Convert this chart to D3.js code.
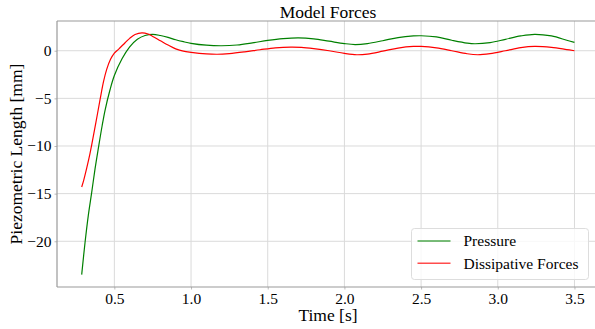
<!DOCTYPE html>
<html>
<head>
<meta charset="utf-8">
<script src="https://cdn.jsdelivr.net/npm/d3@7"></script>
<style>
    body { margin: 0; background: #fff; }
    svg { display: block; font-family: "Liberation Serif", "Times New Roman", serif; }
</style>
</head>
<body>
<div id="chart"></div>
<script>
// values
var timePressure = [0.287, 0.309, 0.33, 0.352, 0.374, 0.396, 0.42, 0.44, 0.47, 0.5, 0.55, 0.6, 0.65, 0.7, 0.75,
    0.8, 0.85, 0.9, 0.95, 1.0, 1.1, 1.2, 1.3, 1.4, 1.5, 1.6, 1.7, 1.8, 1.9, 2.0, 2.07, 2.15, 2.25, 2.35,
    2.45, 2.5, 2.6, 2.7, 2.8, 2.85, 2.95, 3.05, 3.15, 3.24, 3.35, 3.45, 3.5];
var pressure = [-23.5, -20.1, -17.3, -14.9, -12.4, -10.2, -7.9, -6.2, -4.2, -2.6, -0.85, 0.4, 1.2, 1.6, 1.72,
    1.6, 1.4, 1.15, 0.95, 0.78, 0.58, 0.52, 0.6, 0.82, 1.08, 1.27, 1.35, 1.25, 1.0, 0.75, 0.65, 0.75, 1.05, 1.38,
    1.55, 1.57, 1.45, 1.1, 0.8, 0.73, 0.85, 1.2, 1.55, 1.72, 1.55, 1.1, 0.87];

var timeDissipative = [0.287, 0.3, 0.32, 0.341, 0.352, 0.38, 0.407, 0.43, 0.45, 0.475, 0.5, 0.53, 0.57, 0.6,
    0.635, 0.68, 0.72, 0.75, 0.8, 0.85, 0.9, 0.95, 1.0, 1.1, 1.17, 1.25, 1.35, 1.45, 1.55, 1.65, 1.72, 1.8,
    1.9, 2.0, 2.08, 2.15, 2.25, 2.35, 2.45, 2.5, 2.6, 2.7, 2.8, 2.87, 2.95, 3.05, 3.15, 3.24, 3.35, 3.45, 3.5];
var dissipative = [-14.3, -13.6, -12.3, -10.8, -9.9, -7.5, -5.1, -3.2, -1.96, -0.9, -0.25, 0.2, 0.84, 1.3,
    1.7, 1.87, 1.75, 1.5, 1.05, 0.6, 0.2, -0.05, -0.17, -0.33, -0.37, -0.3, -0.12, 0.1, 0.3, 0.38, 0.35, 0.22,
    0.0, -0.28, -0.42, -0.35, -0.05, 0.28, 0.45, 0.45, 0.3, 0.0, -0.32, -0.42, -0.3, 0.0, 0.32, 0.45, 0.35, 0.12, 0.0];

var xTicks = [0.5, 1.0, 1.5, 2.0, 2.5, 3.0, 3.5];
var yTicks = [0, -5, -10, -15, -20];
var seriesNames = ["Pressure", "Dissipative Forces"];
var seriesColors = ["green", "red"];

var w = 595, h = 329;
var margin = { top: 21, right: -4, bottom: 42, left: 57 };
var width = w - margin.left - margin.right;
var height = h - margin.top - margin.bottom;

var svg = d3.select("#chart").append("svg").attr("width", w).attr("height", h);
var g = svg.append("g").attr("transform", "translate(" + margin.left + "," + margin.top + ")");

var scale_x = d3.scaleLinear().domain([0.126, 3.66]).range([0, width]);
var scale_y = d3.scaleLinear().domain([-24.8, 3.12]).range([height, 0]);

// grid
g.append("g").attr("class", "grid")
    .selectAll("line.gx").data(xTicks).enter().append("line")
    .attr("x1", function (d) { return scale_x(d); }).attr("x2", function (d) { return scale_x(d); })
    .attr("y1", 0).attr("y2", height)
    .attr("stroke", "#dadada").attr("stroke-width", 1);
g.append("g").attr("class", "grid")
    .selectAll("line.gy").data(yTicks).enter().append("line")
    .attr("y1", function (d) { return scale_y(d); }).attr("y2", function (d) { return scale_y(d); })
    .attr("x1", 0).attr("x2", width)
    .attr("stroke", "#dadada").attr("stroke-width", 1);

// axes
var xAxis = d3.axisBottom(scale_x).tickValues(xTicks).tickSize(2.5).tickPadding(3)
    .tickFormat(d3.format(".1f"));
var yAxis = d3.axisLeft(scale_y).tickValues(yTicks).tickSize(2.5).tickPadding(3)
    .tickFormat(function (d) { return d < 0 ? "\u2212" + Math.abs(d) : d; });

var xBar = g.append("g").attr("transform", "translate(0," + height + ")").call(xAxis);
var yBar = g.append("g").call(yAxis);
[xBar, yBar].forEach(function (b) {
    b.attr("font-family", null).attr("font-size", null);
    b.select(".domain").remove();
    b.selectAll(".tick line").attr("stroke", "#bbbbbb");
    b.selectAll(".tick text").attr("fill", "#000").style("font-size", "15.5px");
});
xBar.selectAll(".tick text").attr("dy", "0.71em");

// frame
g.append("line").attr("x1", 0).attr("x2", 0).attr("y1", 0).attr("y2", height)
    .attr("stroke", "#999").attr("stroke-width", 1.2);
g.append("line").attr("x1", 0).attr("x2", width).attr("y1", height).attr("y2", height)
    .attr("stroke", "#999").attr("stroke-width", 1.2);
g.append("line").attr("x1", 0).attr("x2", width).attr("y1", 0).attr("y2", 0)
    .attr("stroke", "#999").attr("stroke-width", 1.2);

// lines
var line = d3.line()
    .x(function (d) { return scale_x(d.x); })
    .y(function (d) { return scale_y(d.y); })
    .curve(d3.curveCatmullRom.alpha(0.5));

var datasets = [
    timePressure.map(function (t, i) { return { x: t, y: pressure[i] }; }),
    timeDissipative.map(function (t, i) { return { x: t, y: dissipative[i] }; })
];
datasets.forEach(function (data, i) {
    g.append("path").attr("d", line(data))
        .attr("fill", "none").attr("stroke", seriesColors[i]).attr("stroke-width", 1.2);
});

// title and labels
svg.append("text").attr("x", 328).attr("y", 18)
    .attr("text-anchor", "middle").style("font-size", "17.5px").text("Model Forces");
svg.append("text").attr("x", 328).attr("y", 321)
    .attr("text-anchor", "middle").style("font-size", "17.5px").text("Time [s]");
svg.append("text").attr("transform", "translate(22,154) rotate(-90)")
    .attr("text-anchor", "middle").style("font-size", "17.5px").text("Piezometric Length [mm]");

// legend
var legend = svg.append("g").attr("transform", "translate(411.5,228.5)");
legend.append("rect").attr("width", 177).attr("height", 51).attr("rx", 3)
    .attr("fill", "#fff").attr("fill-opacity", 0.8).attr("stroke", "#dddddd").attr("stroke-width", 1);
seriesNames.forEach(function (name, i) {
    var yy = 12.5 + i * 22.3;
    legend.append("line").attr("x1", 6).attr("x2", 39).attr("y1", yy).attr("y2", yy)
        .attr("stroke", seriesColors[i]).attr("stroke-width", 1.5).attr("stroke-opacity", 0.7);
    legend.append("text").attr("x", 52).attr("y", yy + 5.3)
        .style("font-size", "15.5px").text(name);
});
</script>
</body>
</html>
